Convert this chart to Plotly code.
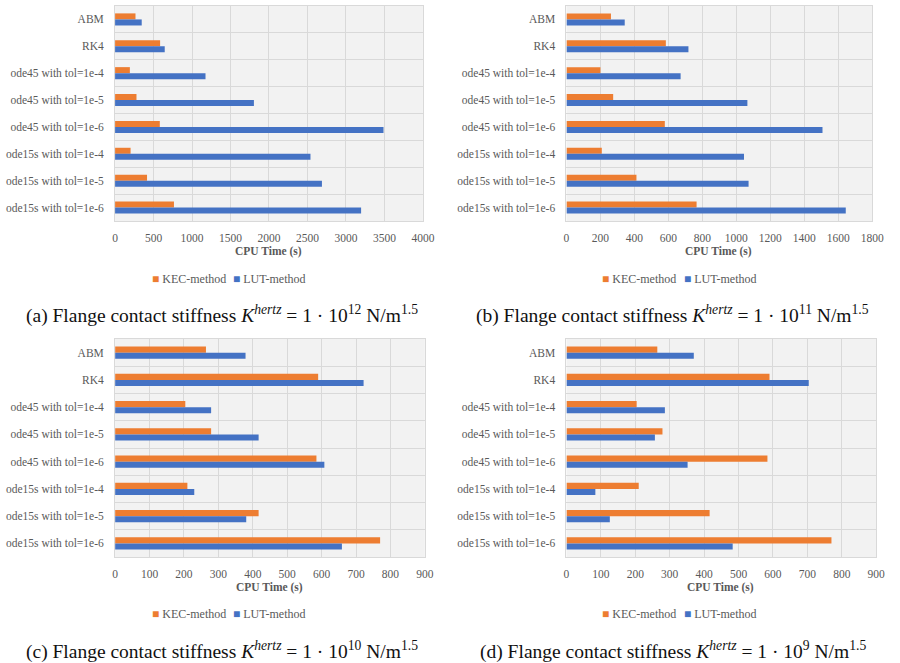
import plotly.graph_objects as go

categories = ["ABM", "RK4", "ode45 with tol=1e-4", "ode45 with tol=1e-5", "ode45 with tol=1e-6",
              "ode15s with tol=1e-4", "ode15s with tol=1e-5", "ode15s with tol=1e-6"]

kec_a = [265, 585, 192, 278, 581, 201, 415, 765]
lut_a = [346, 645, 1175, 1804, 3488, 2539, 2688, 3197]

kec_b = [262, 585, 200, 275, 579, 208, 412, 766]
lut_b = [343, 718, 672, 1065, 1507, 1045, 1072, 1644]

kec_c = [264, 590, 204, 279, 585, 210, 417, 770]
lut_c = [379, 722, 279, 417, 608, 230, 381, 659]

kec_d = [264, 590, 204, 279, 584, 210, 416, 770]
lut_d = [370, 704, 286, 257, 352, 84, 126, 483]

series_names = ["KEC-method", "LUT-method"]
x_ranges = [(0, 4000, 500), (0, 1800, 200), (0, 900, 100), (0, 900, 100)]
captions = [
    "(a) Flange contact stiffness <i>K<sup>hertz</sup></i> = 1 · 10<sup>12</sup> N/m<sup>1.5</sup>",
    "(b) Flange contact stiffness <i>K<sup>hertz</sup></i> = 1 · 10<sup>11</sup> N/m<sup>1.5</sup>",
    "(c) Flange contact stiffness <i>K<sup>hertz</sup></i> = 1 · 10<sup>10</sup> N/m<sup>1.5</sup>",
    "(d) Flange contact stiffness <i>K<sup>hertz</sup></i> = 1 · 10<sup>9</sup> N/m<sup>1.5</sup>",
]

W, H = 900, 663
FONT = "Liberation Serif, Times New Roman, serif"
GREY = "#595959"
ORANGE = "#ED7D31"
BLUE = "#4472C4"
COLORS = [ORANGE, BLUE]

# pixel layout of each panel: (x0, x1, ytop, ybottom)
panels = [(114, 427, 6, 221), (573, 884, 6, 221), (114, 429, 339, 557), (573, 888, 339, 557)]
legend_pos = [(149, 232, 279), (607, 690, 279), (149, 232, 614), (607, 690, 614)]
title_pos = [(270, 251), (728, 251), (271, 587), (730, 587)]
caption_pos = [(223, 314), (681, 314), (223, 650), (681, 650)]

data = [(kec_a, lut_a), (kec_b, lut_b), (kec_c, lut_c), (kec_d, lut_d)]

fig = go.Figure()
annotations = []
for i, ((kec, lut), (x0, x1, yt, yb)) in enumerate(zip(data, panels)):
    n = i + 1
    xa = "x" if n == 1 else f"x{n}"
    ya = "y" if n == 1 else f"y{n}"
    for name, vals, col in zip(series_names, (kec, lut), COLORS):
        fig.add_trace(go.Bar(y=categories, x=vals, orientation="h", name=name,
                             marker=dict(color=col, line=dict(width=0)),
                             xaxis=xa, yaxis=ya, showlegend=False))
    lo, hi, dt = x_ranges[i]
    xkey = "xaxis" if n == 1 else f"xaxis{n}"
    ykey = "yaxis" if n == 1 else f"yaxis{n}"
    fig.layout[xkey] = dict(
        domain=[x0 / W, x1 / W], anchor=ya, range=[lo, hi], dtick=dt, tick0=0,
        showgrid=True, gridcolor="#d9d9d9", gridwidth=1,
        showline=True, linecolor="#d9d9d9", mirror=True, zeroline=False,
        tickfont=dict(family=FONT, size=11.5, color=GREY), ticks="", ticklabelstandoff=6,
        fixedrange=True,
    )
    fig.layout[ykey] = dict(
        domain=[1 - yb / H, 1 - yt / H], anchor=xa, type="category",
        autorange="reversed", tickson="boundaries", showgrid=True,
        gridcolor="#d9d9d9", gridwidth=1, showline=True, linecolor="#d9d9d9", mirror=True,
        tickfont=dict(family=FONT, size=11.5, color=GREY), ticks="", ticklabelstandoff=8,
        fixedrange=True,
    )
    # legend drawn as text entries
    lx1, lx2, ly = legend_pos[i]
    for name, col, lx in zip(series_names, COLORS, (lx1, lx2)):
        annotations.append(dict(
            text=f"<span style='color:{col}'>■</span> {name}", x=lx / W, y=1 - ly / H,
            xref="paper", yref="paper", showarrow=False, xanchor="left", yanchor="middle",
            font=dict(family=FONT, size=12, color=GREY)))
    tx, ty = title_pos[i]
    annotations.append(dict(text="<b>CPU Time (s)</b>", x=tx / W, y=1 - ty / H,
                            xref="paper", yref="paper", showarrow=False,
                            xanchor="center", yanchor="middle",
                            font=dict(family=FONT, size=11.5, color=GREY)))
    cx, cy = caption_pos[i]
    annotations.append(dict(text=captions[i], x=cx / W, y=1 - cy / H,
                            xref="paper", yref="paper", showarrow=False,
                            xanchor="center", yanchor="middle",
                            font=dict(family=FONT, size=19.5, color="#111111")))

fig.update_layout(
    width=W, height=H, margin=dict(l=0, r=0, t=0, b=0),
    paper_bgcolor="white", plot_bgcolor="#f2f2f2",
    barmode="group", bargap=0.55, bargroupgap=0,
    annotations=annotations, showlegend=False,
)

fig.write_html("out.html", config={"displayModeBar": False},
               post_script="document.body.style.margin='0';")
